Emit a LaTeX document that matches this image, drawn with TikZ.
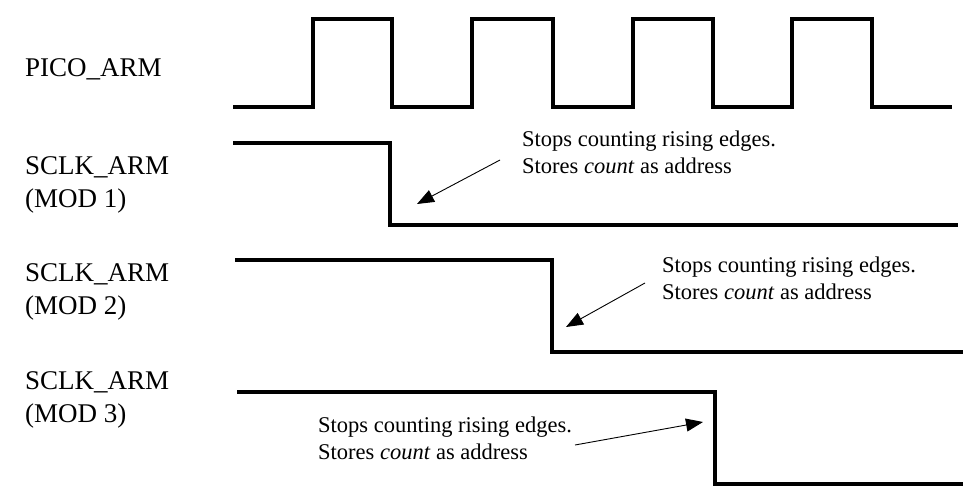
\documentclass[tikz,border=0pt]{standalone}
\usepackage{fontspec}
\setmainfont{Liberation Serif}
\usetikzlibrary{arrows.meta}
\tikzset{
  wave/.style={line width=3.2pt, line join=miter},
  lab/.style={anchor=base west, inner sep=0pt, font=\fontsize{27}{33}\selectfont, align=left},
  note/.style={anchor=base west, inner sep=0pt, font=\fontsize{22.5}{27.5}\selectfont, align=left},
  pointer/.style={line width=0.9pt, -{Triangle[length=17pt,width=13pt]}}
}
\begin{document}
\begin{tikzpicture}[x=1pt,y=-1pt]
\useasboundingbox (0,0) rectangle (974,500);
% labels (base anchor = baseline of the last line)
\node[lab] (pico) at (25,77) {PICO\_ARM};
\node[lab] (m1) at (25,207) {SCLK\_ARM\\(MOD 1)};
\node[lab] (m2) at (25,314) {SCLK\_ARM\\(MOD 2)};
\node[lab] (m3) at (25,422) {SCLK\_ARM\\(MOD 3)};
% clock waveform
\draw[wave] (233,107) -- (313,107) -- (313,19) -- (392,19) -- (392,107)
  -- (472,107) -- (472,19) -- (553,19) -- (553,107)
  -- (633,107) -- (633,19) -- (713,19) -- (713,107)
  -- (792,107) -- (792,19) -- (872,19) -- (872,107) -- (952,107);
% SCLK waveforms
\draw[wave] (233,143) -- (390,143) -- (390,225) -- (958,225);
\draw[wave] (235,260) -- (552,260) -- (552,352) -- (963,352);
\draw[wave] (237,392) -- (715,392) -- (715,484) -- (963,484);
% notes
\node[note] (n1) at (522,173.5) {Stops counting rising edges.\\Stores \textit{count} as address};
\node[note] (n2) at (662,299.5) {Stops counting rising edges.\\Stores \textit{count} as address};
\node[note] (n3) at (318,459.5) {Stops counting rising edges.\\Stores \textit{count} as address};
% pointers
\coordinate (t1) at (500,160); \coordinate (h1) at (417,204);
\coordinate (t2) at (645,283); \coordinate (h2) at (566,327);
\coordinate (t3) at (575,445); \coordinate (h3) at (703,422);
\draw[pointer] (t1) -- (h1);
\draw[pointer] (t2) -- (h2);
\draw[pointer] (t3) -- (h3);
\end{tikzpicture}
\end{document}
